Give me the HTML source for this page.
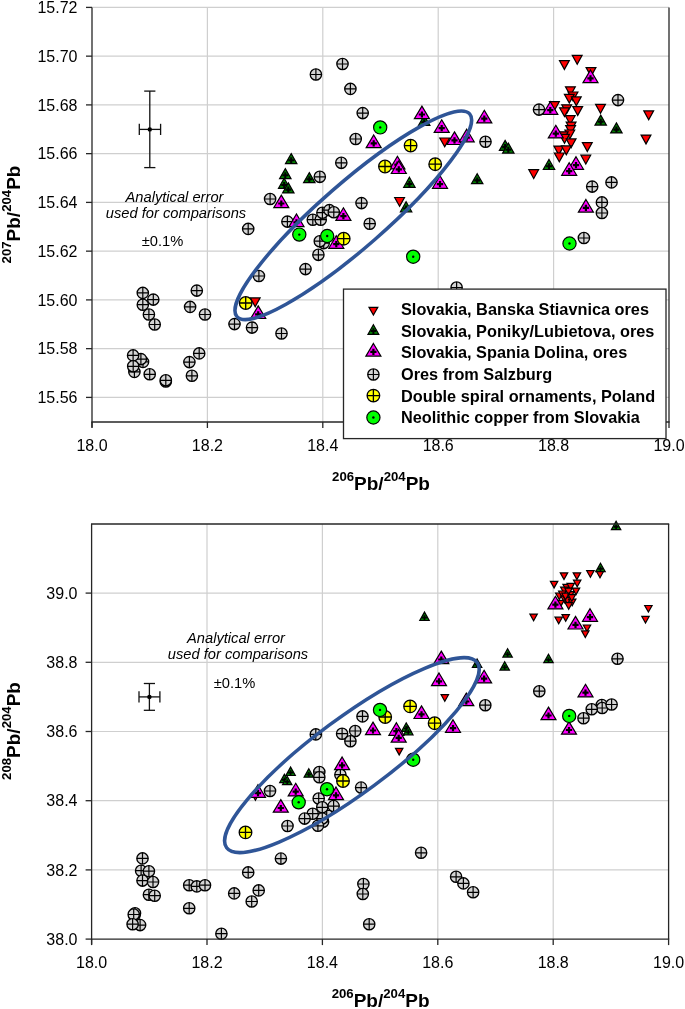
<!DOCTYPE html>
<html><head><meta charset="utf-8"><style>
html,body{margin:0;padding:0;background:#fff;width:685px;height:1009px;overflow:hidden}
svg{display:block;will-change:transform}
text{font-family:"Liberation Sans", sans-serif;fill:#000}
</style></head><body>
<svg width="685" height="1009" viewBox="0 0 685 1009">
<rect width="685" height="1009" fill="#fff"/>
<line x1="92" y1="7.4" x2="669" y2="7.4" stroke="#cfcfcf" stroke-width="1.2"/>
<line x1="92" y1="56.15" x2="669" y2="56.15" stroke="#cfcfcf" stroke-width="1.2"/>
<line x1="92" y1="104.9" x2="669" y2="104.9" stroke="#cfcfcf" stroke-width="1.2"/>
<line x1="92" y1="153.65" x2="669" y2="153.65" stroke="#cfcfcf" stroke-width="1.2"/>
<line x1="92" y1="202.4" x2="669" y2="202.4" stroke="#cfcfcf" stroke-width="1.2"/>
<line x1="92" y1="251.15" x2="669" y2="251.15" stroke="#cfcfcf" stroke-width="1.2"/>
<line x1="92" y1="299.9" x2="669" y2="299.9" stroke="#cfcfcf" stroke-width="1.2"/>
<line x1="92" y1="348.65" x2="669" y2="348.65" stroke="#cfcfcf" stroke-width="1.2"/>
<line x1="92" y1="397.4" x2="669" y2="397.4" stroke="#cfcfcf" stroke-width="1.2"/>
<line x1="207.4" y1="7.4" x2="207.4" y2="422" stroke="#cfcfcf" stroke-width="1.2"/>
<line x1="322.8" y1="7.4" x2="322.8" y2="422" stroke="#cfcfcf" stroke-width="1.2"/>
<line x1="438.2" y1="7.4" x2="438.2" y2="422" stroke="#cfcfcf" stroke-width="1.2"/>
<line x1="553.6" y1="7.4" x2="553.6" y2="422" stroke="#cfcfcf" stroke-width="1.2"/>
<path d="M572.3,55.4L582.1,55.4L577.2,64.2Z" fill="#ff0000" stroke="#000" stroke-width="1.2"/>
<path d="M559.5,60.6L569.3,60.6L564.4,69.4Z" fill="#ff0000" stroke="#000" stroke-width="1.2"/>
<path d="M586.1,67.6L595.9,67.6L591.0,76.4Z" fill="#ff0000" stroke="#000" stroke-width="1.2"/>
<path d="M565.5,86.8L575.3,86.8L570.4,95.6Z" fill="#ff0000" stroke="#000" stroke-width="1.2"/>
<path d="M568.1,92.0L577.9,92.0L573.0,100.8Z" fill="#ff0000" stroke="#000" stroke-width="1.2"/>
<path d="M564.4,94.3L574.2,94.3L569.3,103.1Z" fill="#ff0000" stroke="#000" stroke-width="1.2"/>
<path d="M571.4,96.9L581.2,96.9L576.3,105.7Z" fill="#ff0000" stroke="#000" stroke-width="1.2"/>
<path d="M549.5,101.7L559.3,101.7L554.4,110.5Z" fill="#ff0000" stroke="#000" stroke-width="1.2"/>
<path d="M561.8,104.8L571.6,104.8L566.7,113.6Z" fill="#ff0000" stroke="#000" stroke-width="1.2"/>
<path d="M559.6,107.8L569.4,107.8L564.5,116.6Z" fill="#ff0000" stroke="#000" stroke-width="1.2"/>
<path d="M572.8,106.6L582.6,106.6L577.7,115.4Z" fill="#ff0000" stroke="#000" stroke-width="1.2"/>
<path d="M565.3,115.7L575.1,115.7L570.2,124.5Z" fill="#ff0000" stroke="#000" stroke-width="1.2"/>
<path d="M566.2,122.1L576.0,122.1L571.1,130.9Z" fill="#ff0000" stroke="#000" stroke-width="1.2"/>
<path d="M565.7,125.6L575.5,125.6L570.6,134.4Z" fill="#ff0000" stroke="#000" stroke-width="1.2"/>
<path d="M564.9,130.0L574.7,130.0L569.8,138.8Z" fill="#ff0000" stroke="#000" stroke-width="1.2"/>
<path d="M558.3,131.8L568.1,131.8L563.2,140.6Z" fill="#ff0000" stroke="#000" stroke-width="1.2"/>
<path d="M559.6,134.4L569.4,134.4L564.5,143.2Z" fill="#ff0000" stroke="#000" stroke-width="1.2"/>
<path d="M566.2,138.9L576.0,138.9L571.1,147.7Z" fill="#ff0000" stroke="#000" stroke-width="1.2"/>
<path d="M553.9,146.1L563.7,146.1L558.8,154.9Z" fill="#ff0000" stroke="#000" stroke-width="1.2"/>
<path d="M561.4,145.9L571.2,145.9L566.3,154.7Z" fill="#ff0000" stroke="#000" stroke-width="1.2"/>
<path d="M582.4,142.6L592.2,142.6L587.3,151.4Z" fill="#ff0000" stroke="#000" stroke-width="1.2"/>
<path d="M554.4,153.0L564.2,153.0L559.3,161.8Z" fill="#ff0000" stroke="#000" stroke-width="1.2"/>
<path d="M580.9,155.2L590.7,155.2L585.8,164.0Z" fill="#ff0000" stroke="#000" stroke-width="1.2"/>
<path d="M528.8,169.7L538.6,169.7L533.7,178.5Z" fill="#ff0000" stroke="#000" stroke-width="1.2"/>
<path d="M595.6,104.4L605.4,104.4L600.5,113.2Z" fill="#ff0000" stroke="#000" stroke-width="1.2"/>
<path d="M643.8,110.9L653.6,110.9L648.7,119.7Z" fill="#ff0000" stroke="#000" stroke-width="1.2"/>
<path d="M641.1,135.1L650.9,135.1L646.0,143.9Z" fill="#ff0000" stroke="#000" stroke-width="1.2"/>
<path d="M439.8,138.0L449.6,138.0L444.7,146.8Z" fill="#ff0000" stroke="#000" stroke-width="1.2"/>
<path d="M394.7,197.5L404.5,197.5L399.6,206.3Z" fill="#ff0000" stroke="#000" stroke-width="1.2"/>
<path d="M250.3,297.9L260.1,297.9L255.2,306.7Z" fill="#ff0000" stroke="#000" stroke-width="1.2"/>
<path d="M291.2,153.6L296.9,163.6L285.5,163.6Z" fill="#008000" stroke="#000" stroke-width="1.2"/><path d="M288.3,160.3H294.1M291.2,157.3V163.2" stroke="#000" stroke-width="2.1"/>
<path d="M285.3,168.6L291.0,178.6L279.6,178.6Z" fill="#008000" stroke="#000" stroke-width="1.2"/><path d="M282.4,175.3H288.2M285.3,172.3V178.2" stroke="#000" stroke-width="2.1"/>
<path d="M284.2,178.3L289.9,188.3L278.5,188.3Z" fill="#008000" stroke="#000" stroke-width="1.2"/><path d="M281.3,185.0H287.1M284.2,182.0V187.9" stroke="#000" stroke-width="2.1"/>
<path d="M288.3,182.9L294.0,192.9L282.6,192.9Z" fill="#008000" stroke="#000" stroke-width="1.2"/><path d="M285.4,189.6H291.2M288.3,186.6V192.5" stroke="#000" stroke-width="2.1"/>
<path d="M309.3,172.6L315.0,182.6L303.6,182.6Z" fill="#008000" stroke="#000" stroke-width="1.2"/><path d="M306.4,179.3H312.2M309.3,176.3V182.2" stroke="#000" stroke-width="2.1"/>
<path d="M406.1,201.8L411.8,211.8L400.4,211.8Z" fill="#008000" stroke="#000" stroke-width="1.2"/><path d="M403.2,208.5H409.0M406.1,205.5V211.4" stroke="#000" stroke-width="2.1"/>
<path d="M409.4,177.3L415.1,187.3L403.7,187.3Z" fill="#008000" stroke="#000" stroke-width="1.2"/><path d="M406.5,184.0H412.3M409.4,181.0V186.9" stroke="#000" stroke-width="2.1"/>
<path d="M424.2,115.5L429.9,125.5L418.5,125.5Z" fill="#008000" stroke="#000" stroke-width="1.2"/><path d="M421.3,122.2H427.1M424.2,119.2V125.1" stroke="#000" stroke-width="2.1"/>
<path d="M477.2,173.7L482.9,183.7L471.5,183.7Z" fill="#008000" stroke="#000" stroke-width="1.2"/><path d="M474.3,180.4H480.1M477.2,177.4V183.3" stroke="#000" stroke-width="2.1"/>
<path d="M505.1,140.4L510.8,150.4L499.4,150.4Z" fill="#008000" stroke="#000" stroke-width="1.2"/><path d="M502.2,147.1H508.0M505.1,144.1V150.0" stroke="#000" stroke-width="2.1"/>
<path d="M508.3,143.1L514.0,153.1L502.6,153.1Z" fill="#008000" stroke="#000" stroke-width="1.2"/><path d="M505.4,149.8H511.2M508.3,146.8V152.7" stroke="#000" stroke-width="2.1"/>
<path d="M549.0,159.5L554.7,169.5L543.3,169.5Z" fill="#008000" stroke="#000" stroke-width="1.2"/><path d="M546.1,166.2H551.9M549.0,163.2V169.1" stroke="#000" stroke-width="2.1"/>
<path d="M600.7,115.1L606.4,125.1L595.0,125.1Z" fill="#008000" stroke="#000" stroke-width="1.2"/><path d="M597.8,121.8H603.6M600.7,118.8V124.7" stroke="#000" stroke-width="2.1"/>
<path d="M616.4,122.9L622.1,132.9L610.7,132.9Z" fill="#008000" stroke="#000" stroke-width="1.2"/><path d="M613.5,129.6H619.3M616.4,126.6V132.5" stroke="#000" stroke-width="2.1"/>
<circle cx="142.8" cy="292.9" r="5.65" fill="#d4d4d4" stroke="#000" stroke-width="1.35"/><path d="M137.2,292.9H148.5M142.8,287.2V298.5" stroke="#000" stroke-width="1.2"/>
<circle cx="153.3" cy="299.6" r="5.65" fill="#d4d4d4" stroke="#000" stroke-width="1.35"/><path d="M147.7,299.6H159.0M153.3,294.0V305.2" stroke="#000" stroke-width="1.2"/>
<circle cx="142.8" cy="304.7" r="5.65" fill="#d4d4d4" stroke="#000" stroke-width="1.35"/><path d="M137.2,304.7H148.5M142.8,299.1V310.3" stroke="#000" stroke-width="1.2"/>
<circle cx="148.9" cy="314.5" r="5.65" fill="#d4d4d4" stroke="#000" stroke-width="1.35"/><path d="M143.2,314.5H154.6M148.9,308.9V320.1" stroke="#000" stroke-width="1.2"/>
<circle cx="154.7" cy="324.5" r="5.65" fill="#d4d4d4" stroke="#000" stroke-width="1.35"/><path d="M149.0,324.5H160.3M154.7,318.9V330.1" stroke="#000" stroke-width="1.2"/>
<circle cx="196.8" cy="290.6" r="5.65" fill="#d4d4d4" stroke="#000" stroke-width="1.35"/><path d="M191.2,290.6H202.5M196.8,285.0V296.2" stroke="#000" stroke-width="1.2"/>
<circle cx="190.1" cy="306.9" r="5.65" fill="#d4d4d4" stroke="#000" stroke-width="1.35"/><path d="M184.4,306.9H195.8M190.1,301.2V312.5" stroke="#000" stroke-width="1.2"/>
<circle cx="205.0" cy="314.5" r="5.65" fill="#d4d4d4" stroke="#000" stroke-width="1.35"/><path d="M199.3,314.5H210.7M205.0,308.9V320.1" stroke="#000" stroke-width="1.2"/>
<circle cx="143.0" cy="361.9" r="5.65" fill="#d4d4d4" stroke="#000" stroke-width="1.35"/><path d="M137.3,361.9H148.7M143.0,356.2V367.5" stroke="#000" stroke-width="1.2"/>
<circle cx="140.9" cy="359.1" r="5.65" fill="#d4d4d4" stroke="#000" stroke-width="1.35"/><path d="M135.2,359.1H146.6M140.9,353.5V364.8" stroke="#000" stroke-width="1.2"/>
<circle cx="134.4" cy="371.9" r="5.65" fill="#d4d4d4" stroke="#000" stroke-width="1.35"/><path d="M128.8,371.9H140.1M134.4,366.2V377.5" stroke="#000" stroke-width="1.2"/>
<circle cx="133.1" cy="355.4" r="5.65" fill="#d4d4d4" stroke="#000" stroke-width="1.35"/><path d="M127.4,355.4H138.8M133.1,349.8V361.0" stroke="#000" stroke-width="1.2"/>
<circle cx="133.2" cy="366.3" r="5.65" fill="#d4d4d4" stroke="#000" stroke-width="1.35"/><path d="M127.5,366.3H138.8M133.2,360.7V371.9" stroke="#000" stroke-width="1.2"/>
<circle cx="149.7" cy="374.3" r="5.65" fill="#d4d4d4" stroke="#000" stroke-width="1.35"/><path d="M144.0,374.3H155.3M149.7,368.7V379.9" stroke="#000" stroke-width="1.2"/>
<circle cx="165.8" cy="381.5" r="5.65" fill="#d4d4d4" stroke="#000" stroke-width="1.35"/><path d="M160.2,381.5H171.5M165.8,375.9V387.1" stroke="#000" stroke-width="1.2"/>
<circle cx="165.8" cy="380.3" r="5.65" fill="#d4d4d4" stroke="#000" stroke-width="1.35"/><path d="M160.2,380.3H171.5M165.8,374.7V385.9" stroke="#000" stroke-width="1.2"/>
<circle cx="199.2" cy="353.4" r="5.65" fill="#d4d4d4" stroke="#000" stroke-width="1.35"/><path d="M193.5,353.4H204.8M199.2,347.8V359.0" stroke="#000" stroke-width="1.2"/>
<circle cx="189.4" cy="362.1" r="5.65" fill="#d4d4d4" stroke="#000" stroke-width="1.35"/><path d="M183.8,362.1H195.1M189.4,356.5V367.8" stroke="#000" stroke-width="1.2"/>
<circle cx="191.9" cy="375.8" r="5.65" fill="#d4d4d4" stroke="#000" stroke-width="1.35"/><path d="M186.2,375.8H197.6M191.9,370.2V381.4" stroke="#000" stroke-width="1.2"/>
<circle cx="270.1" cy="199.0" r="5.65" fill="#d4d4d4" stroke="#000" stroke-width="1.35"/><path d="M264.5,199.0H275.8M270.1,193.3V204.7" stroke="#000" stroke-width="1.2"/>
<circle cx="248.2" cy="228.9" r="5.65" fill="#d4d4d4" stroke="#000" stroke-width="1.35"/><path d="M242.5,228.9H253.8M248.2,223.2V234.6" stroke="#000" stroke-width="1.2"/>
<circle cx="287.4" cy="221.6" r="5.65" fill="#d4d4d4" stroke="#000" stroke-width="1.35"/><path d="M281.8,221.6H293.0M287.4,215.9V227.2" stroke="#000" stroke-width="1.2"/>
<circle cx="258.9" cy="276.0" r="5.65" fill="#d4d4d4" stroke="#000" stroke-width="1.35"/><path d="M253.2,276.0H264.5M258.9,270.4V281.6" stroke="#000" stroke-width="1.2"/>
<circle cx="234.5" cy="324.1" r="5.65" fill="#d4d4d4" stroke="#000" stroke-width="1.35"/><path d="M228.8,324.1H240.2M234.5,318.5V329.8" stroke="#000" stroke-width="1.2"/>
<circle cx="252.0" cy="327.6" r="5.65" fill="#d4d4d4" stroke="#000" stroke-width="1.35"/><path d="M246.3,327.6H257.6M252.0,322.0V333.2" stroke="#000" stroke-width="1.2"/>
<circle cx="281.5" cy="333.5" r="5.65" fill="#d4d4d4" stroke="#000" stroke-width="1.35"/><path d="M275.9,333.5H287.1M281.5,327.9V339.1" stroke="#000" stroke-width="1.2"/>
<circle cx="305.5" cy="269.1" r="5.65" fill="#d4d4d4" stroke="#000" stroke-width="1.35"/><path d="M299.9,269.1H311.1M305.5,263.5V274.8" stroke="#000" stroke-width="1.2"/>
<circle cx="318.4" cy="254.8" r="5.65" fill="#d4d4d4" stroke="#000" stroke-width="1.35"/><path d="M312.8,254.8H324.0M318.4,249.2V260.4" stroke="#000" stroke-width="1.2"/>
<circle cx="323.7" cy="243.1" r="5.65" fill="#d4d4d4" stroke="#000" stroke-width="1.35"/><path d="M318.1,243.1H329.3M323.7,237.4V248.8" stroke="#000" stroke-width="1.2"/>
<circle cx="319.8" cy="241.2" r="5.65" fill="#d4d4d4" stroke="#000" stroke-width="1.35"/><path d="M314.2,241.2H325.4M319.8,235.5V246.8" stroke="#000" stroke-width="1.2"/>
<circle cx="312.8" cy="219.7" r="5.65" fill="#d4d4d4" stroke="#000" stroke-width="1.35"/><path d="M307.2,219.7H318.4M312.8,214.0V225.3" stroke="#000" stroke-width="1.2"/>
<circle cx="320.7" cy="219.7" r="5.65" fill="#d4d4d4" stroke="#000" stroke-width="1.35"/><path d="M315.1,219.7H326.3M320.7,214.0V225.3" stroke="#000" stroke-width="1.2"/>
<circle cx="322.4" cy="212.7" r="5.65" fill="#d4d4d4" stroke="#000" stroke-width="1.35"/><path d="M316.8,212.7H328.0M322.4,207.0V218.3" stroke="#000" stroke-width="1.2"/>
<circle cx="329.4" cy="210.1" r="5.65" fill="#d4d4d4" stroke="#000" stroke-width="1.35"/><path d="M323.8,210.1H335.0M329.4,204.4V215.8" stroke="#000" stroke-width="1.2"/>
<circle cx="333.8" cy="212.2" r="5.65" fill="#d4d4d4" stroke="#000" stroke-width="1.35"/><path d="M328.2,212.2H339.4M333.8,206.5V217.8" stroke="#000" stroke-width="1.2"/>
<circle cx="319.8" cy="176.8" r="5.65" fill="#d4d4d4" stroke="#000" stroke-width="1.35"/><path d="M314.2,176.8H325.4M319.8,171.2V182.5" stroke="#000" stroke-width="1.2"/>
<circle cx="341.3" cy="162.8" r="5.65" fill="#d4d4d4" stroke="#000" stroke-width="1.35"/><path d="M335.7,162.8H346.9M341.3,157.2V168.5" stroke="#000" stroke-width="1.2"/>
<circle cx="361.5" cy="203.1" r="5.65" fill="#d4d4d4" stroke="#000" stroke-width="1.35"/><path d="M355.9,203.1H367.1M361.5,197.4V208.8" stroke="#000" stroke-width="1.2"/>
<circle cx="369.7" cy="223.7" r="5.65" fill="#d4d4d4" stroke="#000" stroke-width="1.35"/><path d="M364.1,223.7H375.3M369.7,218.0V229.3" stroke="#000" stroke-width="1.2"/>
<circle cx="315.9" cy="74.5" r="5.65" fill="#d4d4d4" stroke="#000" stroke-width="1.35"/><path d="M310.2,74.5H321.5M315.9,68.8V80.2" stroke="#000" stroke-width="1.2"/>
<circle cx="342.5" cy="64.0" r="5.65" fill="#d4d4d4" stroke="#000" stroke-width="1.35"/><path d="M336.9,64.0H348.1M342.5,58.4V69.7" stroke="#000" stroke-width="1.2"/>
<circle cx="350.4" cy="88.9" r="5.65" fill="#d4d4d4" stroke="#000" stroke-width="1.35"/><path d="M344.8,88.9H356.0M350.4,83.2V94.6" stroke="#000" stroke-width="1.2"/>
<circle cx="362.7" cy="113.1" r="5.65" fill="#d4d4d4" stroke="#000" stroke-width="1.35"/><path d="M357.1,113.1H368.3M362.7,107.4V118.8" stroke="#000" stroke-width="1.2"/>
<circle cx="355.7" cy="139.0" r="5.65" fill="#d4d4d4" stroke="#000" stroke-width="1.35"/><path d="M350.1,139.0H361.3M355.7,133.3V144.7" stroke="#000" stroke-width="1.2"/>
<circle cx="456.6" cy="287.5" r="5.65" fill="#d4d4d4" stroke="#000" stroke-width="1.35"/><path d="M451.0,287.5H462.2M456.6,281.9V293.1" stroke="#000" stroke-width="1.2"/>
<circle cx="485.5" cy="141.7" r="5.65" fill="#d4d4d4" stroke="#000" stroke-width="1.35"/><path d="M479.9,141.7H491.1M485.5,136.0V147.3" stroke="#000" stroke-width="1.2"/>
<circle cx="539.0" cy="109.6" r="5.65" fill="#d4d4d4" stroke="#000" stroke-width="1.35"/><path d="M533.4,109.6H544.6M539.0,103.9V115.2" stroke="#000" stroke-width="1.2"/>
<circle cx="618.0" cy="100.1" r="5.65" fill="#d4d4d4" stroke="#000" stroke-width="1.35"/><path d="M612.4,100.1H623.6M618.0,94.4V105.8" stroke="#000" stroke-width="1.2"/>
<circle cx="592.2" cy="186.6" r="5.65" fill="#d4d4d4" stroke="#000" stroke-width="1.35"/><path d="M586.6,186.6H597.9M592.2,180.9V192.2" stroke="#000" stroke-width="1.2"/>
<circle cx="611.5" cy="182.4" r="5.65" fill="#d4d4d4" stroke="#000" stroke-width="1.35"/><path d="M605.9,182.4H617.1M611.5,176.8V188.1" stroke="#000" stroke-width="1.2"/>
<circle cx="601.9" cy="202.4" r="5.65" fill="#d4d4d4" stroke="#000" stroke-width="1.35"/><path d="M596.2,202.4H607.5M601.9,196.8V208.1" stroke="#000" stroke-width="1.2"/>
<circle cx="601.9" cy="213.0" r="5.65" fill="#d4d4d4" stroke="#000" stroke-width="1.35"/><path d="M596.2,213.0H607.5M601.9,207.3V218.7" stroke="#000" stroke-width="1.2"/>
<circle cx="583.9" cy="238.0" r="5.65" fill="#d4d4d4" stroke="#000" stroke-width="1.35"/><path d="M578.2,238.0H589.5M583.9,232.3V243.7" stroke="#000" stroke-width="1.2"/>
<path d="M281.3,195.1L288.8,207.7L273.8,207.7Z" fill="#ff00ff" stroke="#000" stroke-width="1.2"/><path d="M278.2,203.5H284.4M281.3,200.4V206.6" stroke="#000" stroke-width="2.2"/>
<path d="M296.5,214.0L304.0,226.6L289.0,226.6Z" fill="#ff00ff" stroke="#000" stroke-width="1.2"/><path d="M293.4,222.4H299.6M296.5,219.3V225.5" stroke="#000" stroke-width="2.2"/>
<path d="M343.4,207.8L350.9,220.4L335.9,220.4Z" fill="#ff00ff" stroke="#000" stroke-width="1.2"/><path d="M340.3,216.2H346.5M343.4,213.1V219.3" stroke="#000" stroke-width="2.2"/>
<path d="M336.3,235.7L343.8,248.3L328.8,248.3Z" fill="#ff00ff" stroke="#000" stroke-width="1.2"/><path d="M333.2,244.1H339.4M336.3,241.0V247.2" stroke="#000" stroke-width="2.2"/>
<path d="M258.2,305.9L265.7,318.5L250.7,318.5Z" fill="#ff00ff" stroke="#000" stroke-width="1.2"/><path d="M255.1,314.3H261.3M258.2,311.2V317.4" stroke="#000" stroke-width="2.2"/>
<path d="M373.7,135.0L381.2,147.6L366.2,147.6Z" fill="#ff00ff" stroke="#000" stroke-width="1.2"/><path d="M370.6,143.4H376.8M373.7,140.3V146.5" stroke="#000" stroke-width="2.2"/>
<path d="M397.4,156.3L404.9,168.9L389.9,168.9Z" fill="#ff00ff" stroke="#000" stroke-width="1.2"/><path d="M394.3,164.7H400.5M397.4,161.6V167.8" stroke="#000" stroke-width="2.2"/>
<path d="M398.8,160.9L406.3,173.5L391.3,173.5Z" fill="#ff00ff" stroke="#000" stroke-width="1.2"/><path d="M395.7,169.3H401.9M398.8,166.2V172.4" stroke="#000" stroke-width="2.2"/>
<path d="M421.9,106.1L429.4,118.7L414.4,118.7Z" fill="#ff00ff" stroke="#000" stroke-width="1.2"/><path d="M418.8,114.5H425.0M421.9,111.4V117.6" stroke="#000" stroke-width="2.2"/>
<path d="M441.7,119.8L449.2,132.4L434.2,132.4Z" fill="#ff00ff" stroke="#000" stroke-width="1.2"/><path d="M438.6,128.2H444.8M441.7,125.1V131.3" stroke="#000" stroke-width="2.2"/>
<path d="M454.5,131.9L462.0,144.5L447.0,144.5Z" fill="#ff00ff" stroke="#000" stroke-width="1.2"/><path d="M451.4,140.3H457.6M454.5,137.2V143.4" stroke="#000" stroke-width="2.2"/>
<path d="M466.7,129.2L474.2,141.8L459.2,141.8Z" fill="#ff00ff" stroke="#000" stroke-width="1.2"/><path d="M463.6,137.6H469.8M466.7,134.5V140.7" stroke="#000" stroke-width="2.2"/>
<path d="M484.3,110.3L491.8,122.9L476.8,122.9Z" fill="#ff00ff" stroke="#000" stroke-width="1.2"/><path d="M481.2,118.7H487.4M484.3,115.6V121.8" stroke="#000" stroke-width="2.2"/>
<path d="M440.0,175.7L447.5,188.3L432.5,188.3Z" fill="#ff00ff" stroke="#000" stroke-width="1.2"/><path d="M436.9,184.1H443.1M440.0,181.0V187.2" stroke="#000" stroke-width="2.2"/>
<path d="M550.3,101.7L557.8,114.3L542.8,114.3Z" fill="#ff00ff" stroke="#000" stroke-width="1.2"/><path d="M547.2,110.1H553.4M550.3,107.0V113.2" stroke="#000" stroke-width="2.2"/>
<path d="M555.8,125.3L563.3,137.9L548.3,137.9Z" fill="#ff00ff" stroke="#000" stroke-width="1.2"/><path d="M552.7,133.7H558.9M555.8,130.6V136.8" stroke="#000" stroke-width="2.2"/>
<path d="M590.5,70.0L598.0,82.6L583.0,82.6Z" fill="#ff00ff" stroke="#000" stroke-width="1.2"/><path d="M587.4,78.4H593.6M590.5,75.3V81.5" stroke="#000" stroke-width="2.2"/>
<path d="M576.0,156.7L583.5,169.3L568.5,169.3Z" fill="#ff00ff" stroke="#000" stroke-width="1.2"/><path d="M572.9,165.1H579.1M576.0,162.0V168.2" stroke="#000" stroke-width="2.2"/>
<path d="M569.2,162.7L576.7,175.3L561.7,175.3Z" fill="#ff00ff" stroke="#000" stroke-width="1.2"/><path d="M566.1,171.1H572.3M569.2,168.0V174.2" stroke="#000" stroke-width="2.2"/>
<path d="M585.9,199.5L593.4,212.1L578.4,212.1Z" fill="#ff00ff" stroke="#000" stroke-width="1.2"/><path d="M582.8,207.9H589.0M585.9,204.8V211.0" stroke="#000" stroke-width="2.2"/>
<circle cx="245.7" cy="303.0" r="6.3" fill="#ffff00" stroke="#000" stroke-width="1.3"/><path d="M239.4,303.0H252.0M245.7,296.7V309.3" stroke="#000" stroke-width="1.3"/>
<circle cx="343.7" cy="238.7" r="6.3" fill="#ffff00" stroke="#000" stroke-width="1.3"/><path d="M337.4,238.7H350.0M343.7,232.4V245.0" stroke="#000" stroke-width="1.3"/>
<circle cx="385.0" cy="166.5" r="6.3" fill="#ffff00" stroke="#000" stroke-width="1.3"/><path d="M378.7,166.5H391.3M385.0,160.2V172.8" stroke="#000" stroke-width="1.3"/>
<circle cx="410.6" cy="145.6" r="6.3" fill="#ffff00" stroke="#000" stroke-width="1.3"/><path d="M404.3,145.6H416.9M410.6,139.3V151.9" stroke="#000" stroke-width="1.3"/>
<circle cx="435.2" cy="164.2" r="6.3" fill="#ffff00" stroke="#000" stroke-width="1.3"/><path d="M428.9,164.2H441.5M435.2,157.9V170.5" stroke="#000" stroke-width="1.3"/>
<circle cx="299.3" cy="234.6" r="6.6" fill="#00ff00" stroke="#000" stroke-width="1.2"/><circle cx="299.3" cy="234.6" r="1.2" fill="#000"/>
<circle cx="327.2" cy="236.0" r="6.6" fill="#00ff00" stroke="#000" stroke-width="1.2"/><circle cx="327.2" cy="236.0" r="1.2" fill="#000"/>
<circle cx="380.2" cy="127.4" r="6.6" fill="#00ff00" stroke="#000" stroke-width="1.2"/><circle cx="380.2" cy="127.4" r="1.2" fill="#000"/>
<circle cx="413.2" cy="256.7" r="6.6" fill="#00ff00" stroke="#000" stroke-width="1.2"/><circle cx="413.2" cy="256.7" r="1.2" fill="#000"/>
<circle cx="569.5" cy="243.5" r="6.6" fill="#00ff00" stroke="#000" stroke-width="1.2"/><circle cx="569.5" cy="243.5" r="1.2" fill="#000"/>
<ellipse cx="353.3" cy="215.3" rx="154.3" ry="32.4" transform="rotate(-41.05 353.3 215.3)" fill="none" stroke="#2f5597" stroke-width="3.5"/>
<g stroke="#111" stroke-width="1.3">
<line x1="149.8" y1="91.1" x2="149.8" y2="167.6"/>
<line x1="144.20000000000002" y1="91.1" x2="155.4" y2="91.1"/>
<line x1="144.20000000000002" y1="167.6" x2="155.4" y2="167.6"/>
<line x1="139.3" y1="129.4" x2="160.6" y2="129.4"/>
<line x1="139.3" y1="123.80000000000001" x2="139.3" y2="135.0"/>
<line x1="160.6" y1="123.80000000000001" x2="160.6" y2="135.0"/>
</g>
<circle cx="149.8" cy="129.4" r="2.2" fill="#000"/>
<line x1="92" y1="7.4" x2="92" y2="427.5" stroke="#262626" stroke-width="1.3"/>
<line x1="91.4" y1="422" x2="669.6" y2="422" stroke="#262626" stroke-width="1.3"/>
<line x1="669" y1="7.4" x2="669" y2="422" stroke="#262626" stroke-width="1.3"/>
<line x1="86" y1="7.4" x2="92" y2="7.4" stroke="#262626" stroke-width="1.3"/>
<line x1="86" y1="56.15" x2="92" y2="56.15" stroke="#262626" stroke-width="1.3"/>
<line x1="86" y1="104.9" x2="92" y2="104.9" stroke="#262626" stroke-width="1.3"/>
<line x1="86" y1="153.65" x2="92" y2="153.65" stroke="#262626" stroke-width="1.3"/>
<line x1="86" y1="202.4" x2="92" y2="202.4" stroke="#262626" stroke-width="1.3"/>
<line x1="86" y1="251.15" x2="92" y2="251.15" stroke="#262626" stroke-width="1.3"/>
<line x1="86" y1="299.9" x2="92" y2="299.9" stroke="#262626" stroke-width="1.3"/>
<line x1="86" y1="348.65" x2="92" y2="348.65" stroke="#262626" stroke-width="1.3"/>
<line x1="86" y1="397.4" x2="92" y2="397.4" stroke="#262626" stroke-width="1.3"/>
<line x1="92.0" y1="422" x2="92.0" y2="428" stroke="#262626" stroke-width="1.3"/>
<line x1="207.4" y1="422" x2="207.4" y2="428" stroke="#262626" stroke-width="1.3"/>
<line x1="322.8" y1="422" x2="322.8" y2="428" stroke="#262626" stroke-width="1.3"/>
<line x1="438.2" y1="422" x2="438.2" y2="428" stroke="#262626" stroke-width="1.3"/>
<line x1="553.6" y1="422" x2="553.6" y2="428" stroke="#262626" stroke-width="1.3"/>
<line x1="669.0" y1="422" x2="669.0" y2="428" stroke="#262626" stroke-width="1.3"/>
<text x="77.5" y="13.0" text-anchor="end" font-size="16">15.72</text>
<text x="77.5" y="61.8" text-anchor="end" font-size="16">15.70</text>
<text x="77.5" y="110.5" text-anchor="end" font-size="16">15.68</text>
<text x="77.5" y="159.2" text-anchor="end" font-size="16">15.66</text>
<text x="77.5" y="208.0" text-anchor="end" font-size="16">15.64</text>
<text x="77.5" y="256.8" text-anchor="end" font-size="16">15.62</text>
<text x="77.5" y="305.5" text-anchor="end" font-size="16">15.60</text>
<text x="77.5" y="354.2" text-anchor="end" font-size="16">15.58</text>
<text x="77.5" y="403.0" text-anchor="end" font-size="16">15.56</text>
<text x="92.0" y="450.9" text-anchor="middle" font-size="16">18.0</text>
<text x="207.4" y="450.9" text-anchor="middle" font-size="16">18.2</text>
<text x="322.8" y="450.9" text-anchor="middle" font-size="16">18.4</text>
<text x="438.2" y="450.9" text-anchor="middle" font-size="16">18.6</text>
<text x="553.6" y="450.9" text-anchor="middle" font-size="16">18.8</text>
<text x="669.0" y="450.9" text-anchor="middle" font-size="16">19.0</text>
<text x="381.0" y="490.4" text-anchor="middle" font-size="19" font-weight="bold"><tspan font-size="13.2" dy="-9">206</tspan><tspan dy="9">Pb/</tspan><tspan font-size="13.2" dy="-9">204</tspan><tspan dy="9">Pb</tspan></text>
<text transform="translate(19.8,214.5) rotate(-90)" x="0" y="0" text-anchor="middle" font-size="19" font-weight="bold"><tspan font-size="13.2" dy="-9">207</tspan><tspan dy="9">Pb/</tspan><tspan font-size="13.2" dy="-9">204</tspan><tspan dy="9">Pb</tspan></text>
<g font-style="italic" font-size="14.7" text-anchor="middle"><text x="174.5" y="201.8">Analytical error</text><text x="176" y="217.8">used for comparisons</text></g>
<text x="162.5" y="245.9" text-anchor="middle" font-size="14.7">±0.1%</text>
<rect x="343.5" y="289.1" width="322.5" height="149.5" fill="#fff" stroke="#262626" stroke-width="1.3"/>
<path d="M369.0,307.3L377.8,307.3L373.4,315.1Z" fill="#ff0000" stroke="#000" stroke-width="1.2"/>
<path d="M373.4,324.7L378.8,334.3L368.0,334.3Z" fill="#008000" stroke="#000" stroke-width="1.2"/><path d="M370.6,331.1H376.2M373.4,328.3V333.9" stroke="#000" stroke-width="2.0"/>
<path d="M373.4,343.5L380.9,356.1L365.9,356.1Z" fill="#ff00ff" stroke="#000" stroke-width="1.2"/><path d="M370.3,351.9H376.5M373.4,348.8V355.0" stroke="#000" stroke-width="2.2"/>
<circle cx="373.4" cy="374.5" r="5.65" fill="#d4d4d4" stroke="#000" stroke-width="1.35"/><path d="M367.8,374.5H379.0M373.4,368.9V380.1" stroke="#000" stroke-width="1.2"/>
<circle cx="373.4" cy="395.6" r="6.3" fill="#ffff00" stroke="#000" stroke-width="1.3"/><path d="M367.1,395.6H379.7M373.4,389.3V401.9" stroke="#000" stroke-width="1.3"/>
<circle cx="373.4" cy="417.5" r="6.6" fill="#00ff00" stroke="#000" stroke-width="1.2"/><circle cx="373.4" cy="417.5" r="1.2" fill="#000"/>
<g font-size="16.3" font-weight="bold">
<text x="401" y="315.3">Slovakia, Banska Stiavnica ores</text>
<text x="401" y="336.6">Slovakia, Poniky/Lubietova, ores</text>
<text x="401" y="358.0">Slovakia, Spania Dolina, ores</text>
<text x="401" y="379.9">Ores from Salzburg</text>
<text x="401" y="401.5">Double spiral ornaments, Poland</text>
<text x="401" y="423.0">Neolithic copper from Slovakia</text>
</g>
<line x1="91.6" y1="869.9" x2="668.6" y2="869.9" stroke="#cfcfcf" stroke-width="1.2"/>
<line x1="91.6" y1="800.7" x2="668.6" y2="800.7" stroke="#cfcfcf" stroke-width="1.2"/>
<line x1="91.6" y1="731.5" x2="668.6" y2="731.5" stroke="#cfcfcf" stroke-width="1.2"/>
<line x1="91.6" y1="662.3" x2="668.6" y2="662.3" stroke="#cfcfcf" stroke-width="1.2"/>
<line x1="91.6" y1="593.1" x2="668.6" y2="593.1" stroke="#cfcfcf" stroke-width="1.2"/>
<line x1="207.0" y1="524" x2="207.0" y2="939.1" stroke="#cfcfcf" stroke-width="1.2"/>
<line x1="322.4" y1="524" x2="322.4" y2="939.1" stroke="#cfcfcf" stroke-width="1.2"/>
<line x1="437.8" y1="524" x2="437.8" y2="939.1" stroke="#cfcfcf" stroke-width="1.2"/>
<line x1="553.2" y1="524" x2="553.2" y2="939.1" stroke="#cfcfcf" stroke-width="1.2"/>
<path d="M441.1,694.7L448.5,694.7L444.8,701.3Z" fill="#ff0000" stroke="#000" stroke-width="1.2"/>
<path d="M395.5,748.3L402.9,748.3L399.2,754.9Z" fill="#ff0000" stroke="#000" stroke-width="1.2"/>
<path d="M251.7,793.7L259.1,793.7L255.4,800.3Z" fill="#ff0000" stroke="#000" stroke-width="1.2"/>
<path d="M560.3,572.9L567.7,572.9L564.0,579.5Z" fill="#ff0000" stroke="#000" stroke-width="1.2"/>
<path d="M573.2,572.9L580.6,572.9L576.9,579.5Z" fill="#ff0000" stroke="#000" stroke-width="1.2"/>
<path d="M550.4,581.3L557.8,581.3L554.1,587.9Z" fill="#ff0000" stroke="#000" stroke-width="1.2"/>
<path d="M573.5,580.2L580.9,580.2L577.2,586.8Z" fill="#ff0000" stroke="#000" stroke-width="1.2"/>
<path d="M562.9,584.3L570.3,584.3L566.6,590.9Z" fill="#ff0000" stroke="#000" stroke-width="1.2"/>
<path d="M567.0,583.4L574.4,583.4L570.7,590.0Z" fill="#ff0000" stroke="#000" stroke-width="1.2"/>
<path d="M572.3,588.1L579.7,588.1L576.0,594.7Z" fill="#ff0000" stroke="#000" stroke-width="1.2"/>
<path d="M560.6,587.2L568.0,587.2L564.3,593.8Z" fill="#ff0000" stroke="#000" stroke-width="1.2"/>
<path d="M566.7,591.6L574.1,591.6L570.4,598.2Z" fill="#ff0000" stroke="#000" stroke-width="1.2"/>
<path d="M555.6,593.0L563.0,593.0L559.3,599.6Z" fill="#ff0000" stroke="#000" stroke-width="1.2"/>
<path d="M558.6,591.0L566.0,591.0L562.3,597.6Z" fill="#ff0000" stroke="#000" stroke-width="1.2"/>
<path d="M560.9,596.2L568.3,596.2L564.6,602.8Z" fill="#ff0000" stroke="#000" stroke-width="1.2"/>
<path d="M563.8,597.4L571.2,597.4L567.5,604.0Z" fill="#ff0000" stroke="#000" stroke-width="1.2"/>
<path d="M568.5,599.1L575.9,599.1L572.2,605.7Z" fill="#ff0000" stroke="#000" stroke-width="1.2"/>
<path d="M556.8,600.3L564.2,600.3L560.5,606.9Z" fill="#ff0000" stroke="#000" stroke-width="1.2"/>
<path d="M565.0,602.7L572.4,602.7L568.7,609.3Z" fill="#ff0000" stroke="#000" stroke-width="1.2"/>
<path d="M564.8,588.2L572.2,588.2L568.5,594.8Z" fill="#ff0000" stroke="#000" stroke-width="1.2"/>
<path d="M561.8,593.2L569.2,593.2L565.5,599.8Z" fill="#ff0000" stroke="#000" stroke-width="1.2"/>
<path d="M568.1,594.7L575.5,594.7L571.8,601.3Z" fill="#ff0000" stroke="#000" stroke-width="1.2"/>
<path d="M586.7,570.7L594.1,570.7L590.4,577.3Z" fill="#ff0000" stroke="#000" stroke-width="1.2"/>
<path d="M596.3,571.2L603.7,571.2L600.0,577.8Z" fill="#ff0000" stroke="#000" stroke-width="1.2"/>
<path d="M529.9,614.1L537.3,614.1L533.6,620.7Z" fill="#ff0000" stroke="#000" stroke-width="1.2"/>
<path d="M555.0,617.2L562.4,617.2L558.7,623.8Z" fill="#ff0000" stroke="#000" stroke-width="1.2"/>
<path d="M562.0,614.6L569.4,614.6L565.7,621.2Z" fill="#ff0000" stroke="#000" stroke-width="1.2"/>
<path d="M583.3,625.0L590.7,625.0L587.0,631.6Z" fill="#ff0000" stroke="#000" stroke-width="1.2"/>
<path d="M581.6,630.9L589.0,630.9L585.3,637.5Z" fill="#ff0000" stroke="#000" stroke-width="1.2"/>
<path d="M644.7,605.5L652.1,605.5L648.4,612.1Z" fill="#ff0000" stroke="#000" stroke-width="1.2"/>
<path d="M641.8,616.4L649.2,616.4L645.5,623.0Z" fill="#ff0000" stroke="#000" stroke-width="1.2"/>
<path d="M616.1,521.2L620.8,529.6L611.4,529.6Z" fill="#008000" stroke="#000" stroke-width="1.2"/><path d="M613.7,526.8H618.5M616.1,524.4V529.2" stroke="#000" stroke-width="1.74"/>
<path d="M600.5,563.2L605.2,571.6L595.8,571.6Z" fill="#008000" stroke="#000" stroke-width="1.2"/><path d="M598.1,568.8H602.9M600.5,566.4V571.2" stroke="#000" stroke-width="1.74"/>
<path d="M424.5,612.1L429.2,620.5L419.8,620.5Z" fill="#008000" stroke="#000" stroke-width="1.2"/><path d="M422.1,617.7H426.9M424.5,615.3V620.1" stroke="#000" stroke-width="1.74"/>
<path d="M477.1,659.0L481.8,667.4L472.4,667.4Z" fill="#008000" stroke="#000" stroke-width="1.2"/><path d="M474.7,664.6H479.5M477.1,662.2V667.0" stroke="#000" stroke-width="1.74"/>
<path d="M507.6,648.7L512.3,657.1L502.9,657.1Z" fill="#008000" stroke="#000" stroke-width="1.2"/><path d="M505.2,654.3H510.0M507.6,651.9V656.7" stroke="#000" stroke-width="1.74"/>
<path d="M504.7,661.7L509.4,670.1L500.0,670.1Z" fill="#008000" stroke="#000" stroke-width="1.2"/><path d="M502.3,667.3H507.1M504.7,664.9V669.7" stroke="#000" stroke-width="1.74"/>
<path d="M548.5,654.3L553.2,662.7L543.8,662.7Z" fill="#008000" stroke="#000" stroke-width="1.2"/><path d="M546.1,659.9H550.9M548.5,657.5V662.3" stroke="#000" stroke-width="1.74"/>
<path d="M290.6,767.1L295.3,775.5L285.9,775.5Z" fill="#008000" stroke="#000" stroke-width="1.2"/><path d="M288.2,772.7H293.0M290.6,770.3V775.1" stroke="#000" stroke-width="1.74"/>
<path d="M284.4,774.3L289.1,782.7L279.7,782.7Z" fill="#008000" stroke="#000" stroke-width="1.2"/><path d="M282.0,779.9H286.8M284.4,777.5V782.3" stroke="#000" stroke-width="1.74"/>
<path d="M287.2,776.3L291.9,784.7L282.5,784.7Z" fill="#008000" stroke="#000" stroke-width="1.2"/><path d="M284.8,781.9H289.6M287.2,779.5V784.3" stroke="#000" stroke-width="1.74"/>
<path d="M308.8,768.8L313.5,777.2L304.1,777.2Z" fill="#008000" stroke="#000" stroke-width="1.2"/><path d="M306.4,774.4H311.2M308.8,772.0V776.8" stroke="#000" stroke-width="1.74"/>
<path d="M406.2,722.9L410.9,731.3L401.5,731.3Z" fill="#008000" stroke="#000" stroke-width="1.2"/><path d="M403.8,728.5H408.6M406.2,726.1V730.9" stroke="#000" stroke-width="1.74"/>
<path d="M408.3,726.4L413.0,734.8L403.6,734.8Z" fill="#008000" stroke="#000" stroke-width="1.2"/><path d="M405.9,732.0H410.7M408.3,729.6V734.4" stroke="#000" stroke-width="1.74"/>
<circle cx="142.5" cy="858.4" r="5.65" fill="#d4d4d4" stroke="#000" stroke-width="1.35"/><path d="M136.8,858.4H148.2M142.5,852.8V864.0" stroke="#000" stroke-width="1.2"/>
<circle cx="141.1" cy="870.7" r="5.65" fill="#d4d4d4" stroke="#000" stroke-width="1.35"/><path d="M135.4,870.7H146.8M141.1,865.1V876.4" stroke="#000" stroke-width="1.2"/>
<circle cx="148.9" cy="871.2" r="5.65" fill="#d4d4d4" stroke="#000" stroke-width="1.35"/><path d="M143.2,871.2H154.6M148.9,865.6V876.9" stroke="#000" stroke-width="1.2"/>
<circle cx="142.5" cy="880.6" r="5.65" fill="#d4d4d4" stroke="#000" stroke-width="1.35"/><path d="M136.8,880.6H148.2M142.5,875.0V886.2" stroke="#000" stroke-width="1.2"/>
<circle cx="153.0" cy="882.0" r="5.65" fill="#d4d4d4" stroke="#000" stroke-width="1.35"/><path d="M147.3,882.0H158.7M153.0,876.4V887.6" stroke="#000" stroke-width="1.2"/>
<circle cx="148.9" cy="894.7" r="5.65" fill="#d4d4d4" stroke="#000" stroke-width="1.35"/><path d="M143.2,894.7H154.6M148.9,889.1V900.4" stroke="#000" stroke-width="1.2"/>
<circle cx="154.7" cy="895.7" r="5.65" fill="#d4d4d4" stroke="#000" stroke-width="1.35"/><path d="M149.0,895.7H160.3M154.7,890.1V901.4" stroke="#000" stroke-width="1.2"/>
<circle cx="134.3" cy="915.8" r="5.65" fill="#d4d4d4" stroke="#000" stroke-width="1.35"/><path d="M128.7,915.8H140.0M134.3,910.1V921.4" stroke="#000" stroke-width="1.2"/>
<circle cx="135.0" cy="913.3" r="5.65" fill="#d4d4d4" stroke="#000" stroke-width="1.35"/><path d="M129.3,913.3H140.7M135.0,907.6V918.9" stroke="#000" stroke-width="1.2"/>
<circle cx="133.7" cy="914.5" r="5.65" fill="#d4d4d4" stroke="#000" stroke-width="1.35"/><path d="M128.0,914.5H139.3M133.7,908.9V920.1" stroke="#000" stroke-width="1.2"/>
<circle cx="140.1" cy="925.1" r="5.65" fill="#d4d4d4" stroke="#000" stroke-width="1.35"/><path d="M134.4,925.1H145.8M140.1,919.5V930.8" stroke="#000" stroke-width="1.2"/>
<circle cx="132.6" cy="924.2" r="5.65" fill="#d4d4d4" stroke="#000" stroke-width="1.35"/><path d="M126.9,924.2H138.2M132.6,918.6V929.9" stroke="#000" stroke-width="1.2"/>
<circle cx="189.2" cy="885.2" r="5.65" fill="#d4d4d4" stroke="#000" stroke-width="1.35"/><path d="M183.5,885.2H194.8M189.2,879.6V890.9" stroke="#000" stroke-width="1.2"/>
<circle cx="196.8" cy="886.4" r="5.65" fill="#d4d4d4" stroke="#000" stroke-width="1.35"/><path d="M191.2,886.4H202.5M196.8,880.8V892.0" stroke="#000" stroke-width="1.2"/>
<circle cx="205.0" cy="885.2" r="5.65" fill="#d4d4d4" stroke="#000" stroke-width="1.35"/><path d="M199.3,885.2H210.7M205.0,879.6V890.9" stroke="#000" stroke-width="1.2"/>
<circle cx="189.2" cy="908.3" r="5.65" fill="#d4d4d4" stroke="#000" stroke-width="1.35"/><path d="M183.5,908.3H194.8M189.2,902.6V913.9" stroke="#000" stroke-width="1.2"/>
<circle cx="280.9" cy="858.6" r="5.65" fill="#d4d4d4" stroke="#000" stroke-width="1.35"/><path d="M275.2,858.6H286.5M280.9,853.0V864.2" stroke="#000" stroke-width="1.2"/>
<circle cx="248.2" cy="872.4" r="5.65" fill="#d4d4d4" stroke="#000" stroke-width="1.35"/><path d="M242.5,872.4H253.8M248.2,866.8V878.0" stroke="#000" stroke-width="1.2"/>
<circle cx="234.2" cy="893.4" r="5.65" fill="#d4d4d4" stroke="#000" stroke-width="1.35"/><path d="M228.5,893.4H239.8M234.2,887.8V899.0" stroke="#000" stroke-width="1.2"/>
<circle cx="258.7" cy="890.4" r="5.65" fill="#d4d4d4" stroke="#000" stroke-width="1.35"/><path d="M253.0,890.4H264.3M258.7,884.8V896.0" stroke="#000" stroke-width="1.2"/>
<circle cx="251.7" cy="901.5" r="5.65" fill="#d4d4d4" stroke="#000" stroke-width="1.35"/><path d="M246.0,901.5H257.3M251.7,895.9V907.1" stroke="#000" stroke-width="1.2"/>
<circle cx="221.4" cy="933.7" r="5.65" fill="#d4d4d4" stroke="#000" stroke-width="1.35"/><path d="M215.8,933.7H227.1M221.4,928.1V939.4" stroke="#000" stroke-width="1.2"/>
<circle cx="287.5" cy="826.0" r="5.65" fill="#d4d4d4" stroke="#000" stroke-width="1.35"/><path d="M281.9,826.0H293.1M287.5,820.4V831.6" stroke="#000" stroke-width="1.2"/>
<circle cx="270.0" cy="791.0" r="5.65" fill="#d4d4d4" stroke="#000" stroke-width="1.35"/><path d="M264.4,791.0H275.6M270.0,785.4V796.6" stroke="#000" stroke-width="1.2"/>
<circle cx="319.3" cy="772.0" r="5.65" fill="#d4d4d4" stroke="#000" stroke-width="1.35"/><path d="M313.7,772.0H324.9M319.3,766.4V777.6" stroke="#000" stroke-width="1.2"/>
<circle cx="319.3" cy="777.3" r="5.65" fill="#d4d4d4" stroke="#000" stroke-width="1.35"/><path d="M313.7,777.3H324.9M319.3,771.6V782.9" stroke="#000" stroke-width="1.2"/>
<circle cx="318.7" cy="798.5" r="5.65" fill="#d4d4d4" stroke="#000" stroke-width="1.35"/><path d="M313.1,798.5H324.3M318.7,792.9V804.1" stroke="#000" stroke-width="1.2"/>
<circle cx="326.7" cy="810.5" r="5.65" fill="#d4d4d4" stroke="#000" stroke-width="1.35"/><path d="M321.1,810.5H332.3M326.7,804.9V816.1" stroke="#000" stroke-width="1.2"/>
<circle cx="322.3" cy="807.3" r="5.65" fill="#d4d4d4" stroke="#000" stroke-width="1.35"/><path d="M316.7,807.3H327.9M322.3,801.6V812.9" stroke="#000" stroke-width="1.2"/>
<circle cx="333.6" cy="806.1" r="5.65" fill="#d4d4d4" stroke="#000" stroke-width="1.35"/><path d="M328.0,806.1H339.2M333.6,800.5V811.8" stroke="#000" stroke-width="1.2"/>
<circle cx="323.1" cy="821.8" r="5.65" fill="#d4d4d4" stroke="#000" stroke-width="1.35"/><path d="M317.5,821.8H328.8M323.1,816.1V827.4" stroke="#000" stroke-width="1.2"/>
<circle cx="322.3" cy="818.6" r="5.65" fill="#d4d4d4" stroke="#000" stroke-width="1.35"/><path d="M316.7,818.6H327.9M322.3,813.0V824.2" stroke="#000" stroke-width="1.2"/>
<circle cx="317.9" cy="825.8" r="5.65" fill="#d4d4d4" stroke="#000" stroke-width="1.35"/><path d="M312.2,825.8H323.5M317.9,820.1V831.4" stroke="#000" stroke-width="1.2"/>
<circle cx="312.7" cy="813.7" r="5.65" fill="#d4d4d4" stroke="#000" stroke-width="1.35"/><path d="M307.1,813.7H318.3M312.7,808.1V819.4" stroke="#000" stroke-width="1.2"/>
<circle cx="304.6" cy="818.6" r="5.65" fill="#d4d4d4" stroke="#000" stroke-width="1.35"/><path d="M299.0,818.6H310.2M304.6,813.0V824.2" stroke="#000" stroke-width="1.2"/>
<circle cx="340.4" cy="774.7" r="5.65" fill="#d4d4d4" stroke="#000" stroke-width="1.35"/><path d="M334.8,774.7H346.0M340.4,769.1V780.4" stroke="#000" stroke-width="1.2"/>
<circle cx="315.8" cy="734.4" r="5.65" fill="#d4d4d4" stroke="#000" stroke-width="1.35"/><path d="M310.2,734.4H321.4M315.8,728.8V740.0" stroke="#000" stroke-width="1.2"/>
<circle cx="342.1" cy="733.7" r="5.65" fill="#d4d4d4" stroke="#000" stroke-width="1.35"/><path d="M336.5,733.7H347.8M342.1,728.1V739.4" stroke="#000" stroke-width="1.2"/>
<circle cx="355.2" cy="731.0" r="5.65" fill="#d4d4d4" stroke="#000" stroke-width="1.35"/><path d="M349.6,731.0H360.8M355.2,725.4V736.6" stroke="#000" stroke-width="1.2"/>
<circle cx="350.4" cy="741.2" r="5.65" fill="#d4d4d4" stroke="#000" stroke-width="1.35"/><path d="M344.8,741.2H356.0M350.4,735.6V746.9" stroke="#000" stroke-width="1.2"/>
<circle cx="362.5" cy="716.4" r="5.65" fill="#d4d4d4" stroke="#000" stroke-width="1.35"/><path d="M356.9,716.4H368.1M362.5,710.8V722.0" stroke="#000" stroke-width="1.2"/>
<circle cx="361.1" cy="787.6" r="5.65" fill="#d4d4d4" stroke="#000" stroke-width="1.35"/><path d="M355.5,787.6H366.8M361.1,782.0V793.2" stroke="#000" stroke-width="1.2"/>
<circle cx="421.1" cy="852.8" r="5.65" fill="#d4d4d4" stroke="#000" stroke-width="1.35"/><path d="M415.5,852.8H426.8M421.1,847.1V858.4" stroke="#000" stroke-width="1.2"/>
<circle cx="363.4" cy="884.0" r="5.65" fill="#d4d4d4" stroke="#000" stroke-width="1.35"/><path d="M357.8,884.0H369.0M363.4,878.4V889.6" stroke="#000" stroke-width="1.2"/>
<circle cx="362.8" cy="894.0" r="5.65" fill="#d4d4d4" stroke="#000" stroke-width="1.35"/><path d="M357.2,894.0H368.4M362.8,888.4V899.6" stroke="#000" stroke-width="1.2"/>
<circle cx="369.2" cy="924.2" r="5.65" fill="#d4d4d4" stroke="#000" stroke-width="1.35"/><path d="M363.6,924.2H374.8M369.2,918.6V929.9" stroke="#000" stroke-width="1.2"/>
<circle cx="456.1" cy="876.8" r="5.65" fill="#d4d4d4" stroke="#000" stroke-width="1.35"/><path d="M450.5,876.8H461.8M456.1,871.1V882.4" stroke="#000" stroke-width="1.2"/>
<circle cx="463.4" cy="883.4" r="5.65" fill="#d4d4d4" stroke="#000" stroke-width="1.35"/><path d="M457.8,883.4H469.0M463.4,877.8V889.0" stroke="#000" stroke-width="1.2"/>
<circle cx="473.1" cy="892.3" r="5.65" fill="#d4d4d4" stroke="#000" stroke-width="1.35"/><path d="M467.5,892.3H478.8M473.1,886.6V897.9" stroke="#000" stroke-width="1.2"/>
<circle cx="485.3" cy="705.2" r="5.65" fill="#d4d4d4" stroke="#000" stroke-width="1.35"/><path d="M479.7,705.2H490.9M485.3,699.6V710.9" stroke="#000" stroke-width="1.2"/>
<circle cx="539.3" cy="691.2" r="5.65" fill="#d4d4d4" stroke="#000" stroke-width="1.35"/><path d="M533.6,691.2H544.9M539.3,685.6V696.9" stroke="#000" stroke-width="1.2"/>
<circle cx="617.5" cy="658.8" r="5.65" fill="#d4d4d4" stroke="#000" stroke-width="1.35"/><path d="M611.9,658.8H623.1M617.5,653.1V664.4" stroke="#000" stroke-width="1.2"/>
<circle cx="601.8" cy="705.0" r="5.65" fill="#d4d4d4" stroke="#000" stroke-width="1.35"/><path d="M596.1,705.0H607.4M601.8,699.4V710.6" stroke="#000" stroke-width="1.2"/>
<circle cx="602.2" cy="708.0" r="5.65" fill="#d4d4d4" stroke="#000" stroke-width="1.35"/><path d="M596.6,708.0H607.9M602.2,702.4V713.6" stroke="#000" stroke-width="1.2"/>
<circle cx="611.6" cy="704.5" r="5.65" fill="#d4d4d4" stroke="#000" stroke-width="1.35"/><path d="M606.0,704.5H617.2M611.6,698.9V710.1" stroke="#000" stroke-width="1.2"/>
<circle cx="591.7" cy="709.3" r="5.65" fill="#d4d4d4" stroke="#000" stroke-width="1.35"/><path d="M586.1,709.3H597.4M591.7,703.6V714.9" stroke="#000" stroke-width="1.2"/>
<circle cx="583.5" cy="718.2" r="5.65" fill="#d4d4d4" stroke="#000" stroke-width="1.35"/><path d="M577.9,718.2H589.1M583.5,712.6V723.9" stroke="#000" stroke-width="1.2"/>
<path d="M258.0,784.7L265.5,797.3L250.5,797.3Z" fill="#ff00ff" stroke="#000" stroke-width="1.2"/><path d="M254.9,793.1H261.1M258.0,790.0V796.2" stroke="#000" stroke-width="2.2"/>
<path d="M295.7,783.3L303.2,795.9L288.2,795.9Z" fill="#ff00ff" stroke="#000" stroke-width="1.2"/><path d="M292.6,791.7H298.8M295.7,788.6V794.8" stroke="#000" stroke-width="2.2"/>
<path d="M280.8,799.6L288.3,812.2L273.3,812.2Z" fill="#ff00ff" stroke="#000" stroke-width="1.2"/><path d="M277.7,808.0H283.9M280.8,804.9V811.1" stroke="#000" stroke-width="2.2"/>
<path d="M336.0,787.0L343.5,799.6L328.5,799.6Z" fill="#ff00ff" stroke="#000" stroke-width="1.2"/><path d="M332.9,795.4H339.1M336.0,792.3V798.5" stroke="#000" stroke-width="2.2"/>
<path d="M342.1,757.0L349.6,769.6L334.6,769.6Z" fill="#ff00ff" stroke="#000" stroke-width="1.2"/><path d="M339.0,765.4H345.2M342.1,762.3V768.5" stroke="#000" stroke-width="2.2"/>
<path d="M373.0,722.1L380.5,734.7L365.5,734.7Z" fill="#ff00ff" stroke="#000" stroke-width="1.2"/><path d="M369.9,730.5H376.1M373.0,727.4V733.6" stroke="#000" stroke-width="2.2"/>
<path d="M396.4,722.7L403.9,735.3L388.9,735.3Z" fill="#ff00ff" stroke="#000" stroke-width="1.2"/><path d="M393.3,731.1H399.5M396.4,728.0V734.2" stroke="#000" stroke-width="2.2"/>
<path d="M398.7,729.5L406.2,742.1L391.2,742.1Z" fill="#ff00ff" stroke="#000" stroke-width="1.2"/><path d="M395.6,737.9H401.8M398.7,734.8V741.0" stroke="#000" stroke-width="2.2"/>
<path d="M421.5,705.9L429.0,718.5L414.0,718.5Z" fill="#ff00ff" stroke="#000" stroke-width="1.2"/><path d="M418.4,714.3H424.6M421.5,711.2V717.4" stroke="#000" stroke-width="2.2"/>
<path d="M453.0,719.7L460.5,732.3L445.5,732.3Z" fill="#ff00ff" stroke="#000" stroke-width="1.2"/><path d="M449.9,728.1H456.1M453.0,725.0V731.2" stroke="#000" stroke-width="2.2"/>
<path d="M441.3,651.1L448.8,663.7L433.8,663.7Z" fill="#ff00ff" stroke="#000" stroke-width="1.2"/><path d="M438.2,659.5H444.4M441.3,656.4V662.6" stroke="#000" stroke-width="2.2"/>
<path d="M439.0,673.0L446.5,685.6L431.5,685.6Z" fill="#ff00ff" stroke="#000" stroke-width="1.2"/><path d="M435.9,681.4H442.1M439.0,678.3V684.5" stroke="#000" stroke-width="2.2"/>
<path d="M466.3,693.1L473.8,705.7L458.8,705.7Z" fill="#ff00ff" stroke="#000" stroke-width="1.2"/><path d="M463.2,701.5H469.4M466.3,698.4V704.6" stroke="#000" stroke-width="2.2"/>
<path d="M484.1,670.3L491.6,682.9L476.6,682.9Z" fill="#ff00ff" stroke="#000" stroke-width="1.2"/><path d="M481.0,678.7H487.2M484.1,675.6V681.8" stroke="#000" stroke-width="2.2"/>
<path d="M548.5,707.1L556.0,719.7L541.0,719.7Z" fill="#ff00ff" stroke="#000" stroke-width="1.2"/><path d="M545.4,715.5H551.6M548.5,712.4V718.6" stroke="#000" stroke-width="2.2"/>
<path d="M569.0,721.6L576.5,734.2L561.5,734.2Z" fill="#ff00ff" stroke="#000" stroke-width="1.2"/><path d="M565.9,730.0H572.1M569.0,726.9V733.1" stroke="#000" stroke-width="2.2"/>
<path d="M585.5,684.3L593.0,696.9L578.0,696.9Z" fill="#ff00ff" stroke="#000" stroke-width="1.2"/><path d="M582.4,692.7H588.6M585.5,689.6V695.8" stroke="#000" stroke-width="2.2"/>
<path d="M555.4,596.3L562.9,608.9L547.9,608.9Z" fill="#ff00ff" stroke="#000" stroke-width="1.2"/><path d="M552.3,604.7H558.5M555.4,601.6V607.8" stroke="#000" stroke-width="2.2"/>
<path d="M590.0,608.7L597.5,621.3L582.5,621.3Z" fill="#ff00ff" stroke="#000" stroke-width="1.2"/><path d="M586.9,617.1H593.1M590.0,614.0V620.2" stroke="#000" stroke-width="2.2"/>
<path d="M575.5,616.4L583.0,629.0L568.0,629.0Z" fill="#ff00ff" stroke="#000" stroke-width="1.2"/><path d="M572.4,624.8H578.6M575.5,621.7V627.9" stroke="#000" stroke-width="2.2"/>
<circle cx="245.5" cy="832.4" r="6.3" fill="#ffff00" stroke="#000" stroke-width="1.3"/><path d="M239.2,832.4H251.8M245.5,826.1V838.7" stroke="#000" stroke-width="1.3"/>
<circle cx="343.0" cy="781.0" r="6.3" fill="#ffff00" stroke="#000" stroke-width="1.3"/><path d="M336.7,781.0H349.3M343.0,774.7V787.3" stroke="#000" stroke-width="1.3"/>
<circle cx="385.2" cy="717.0" r="6.3" fill="#ffff00" stroke="#000" stroke-width="1.3"/><path d="M378.9,717.0H391.5M385.2,710.7V723.3" stroke="#000" stroke-width="1.3"/>
<circle cx="410.1" cy="706.4" r="6.3" fill="#ffff00" stroke="#000" stroke-width="1.3"/><path d="M403.8,706.4H416.4M410.1,700.1V712.7" stroke="#000" stroke-width="1.3"/>
<circle cx="434.6" cy="723.2" r="6.3" fill="#ffff00" stroke="#000" stroke-width="1.3"/><path d="M428.3,723.2H440.9M434.6,716.9V729.5" stroke="#000" stroke-width="1.3"/>
<circle cx="298.7" cy="802.3" r="6.6" fill="#00ff00" stroke="#000" stroke-width="1.2"/><circle cx="298.7" cy="802.3" r="1.2" fill="#000"/>
<circle cx="327.0" cy="789.2" r="6.6" fill="#00ff00" stroke="#000" stroke-width="1.2"/><circle cx="327.0" cy="789.2" r="1.2" fill="#000"/>
<circle cx="380.0" cy="709.9" r="6.6" fill="#00ff00" stroke="#000" stroke-width="1.2"/><circle cx="380.0" cy="709.9" r="1.2" fill="#000"/>
<circle cx="413.2" cy="759.7" r="6.6" fill="#00ff00" stroke="#000" stroke-width="1.2"/><circle cx="413.2" cy="759.7" r="1.2" fill="#000"/>
<circle cx="569.2" cy="715.9" r="6.6" fill="#00ff00" stroke="#000" stroke-width="1.2"/><circle cx="569.2" cy="715.9" r="1.2" fill="#000"/>
<ellipse cx="351.9" cy="755.15" rx="155.8" ry="37.6" transform="rotate(-36.48 351.9 755.15)" fill="none" stroke="#2f5597" stroke-width="3.5"/>
<g stroke="#111" stroke-width="1.3">
<line x1="149.4" y1="683.5" x2="149.4" y2="710.3"/>
<line x1="143.8" y1="683.5" x2="155.0" y2="683.5"/>
<line x1="143.8" y1="710.3" x2="155.0" y2="710.3"/>
<line x1="139" y1="696.9" x2="159.9" y2="696.9"/>
<line x1="139" y1="691.3" x2="139" y2="702.5"/>
<line x1="159.9" y1="691.3" x2="159.9" y2="702.5"/>
</g>
<circle cx="149.4" cy="696.9" r="2.2" fill="#000"/>
<line x1="91.6" y1="524" x2="91.6" y2="944.6" stroke="#262626" stroke-width="1.3"/>
<line x1="91.0" y1="939.1" x2="669.2" y2="939.1" stroke="#262626" stroke-width="1.3"/>
<line x1="668.6" y1="524" x2="668.6" y2="939.1" stroke="#262626" stroke-width="1.3"/>
<line x1="91.0" y1="524" x2="669.2" y2="524" stroke="#262626" stroke-width="1.3"/>
<line x1="85.6" y1="939.1" x2="91.6" y2="939.1" stroke="#262626" stroke-width="1.3"/>
<line x1="85.6" y1="869.9" x2="91.6" y2="869.9" stroke="#262626" stroke-width="1.3"/>
<line x1="85.6" y1="800.7" x2="91.6" y2="800.7" stroke="#262626" stroke-width="1.3"/>
<line x1="85.6" y1="731.5" x2="91.6" y2="731.5" stroke="#262626" stroke-width="1.3"/>
<line x1="85.6" y1="662.3" x2="91.6" y2="662.3" stroke="#262626" stroke-width="1.3"/>
<line x1="85.6" y1="593.1" x2="91.6" y2="593.1" stroke="#262626" stroke-width="1.3"/>
<line x1="91.6" y1="939.1" x2="91.6" y2="945.1" stroke="#262626" stroke-width="1.3"/>
<line x1="207.0" y1="939.1" x2="207.0" y2="945.1" stroke="#262626" stroke-width="1.3"/>
<line x1="322.4" y1="939.1" x2="322.4" y2="945.1" stroke="#262626" stroke-width="1.3"/>
<line x1="437.8" y1="939.1" x2="437.8" y2="945.1" stroke="#262626" stroke-width="1.3"/>
<line x1="553.2" y1="939.1" x2="553.2" y2="945.1" stroke="#262626" stroke-width="1.3"/>
<line x1="668.6" y1="939.1" x2="668.6" y2="945.1" stroke="#262626" stroke-width="1.3"/>
<text x="77.5" y="944.7" text-anchor="end" font-size="16">38.0</text>
<text x="77.5" y="875.5" text-anchor="end" font-size="16">38.2</text>
<text x="77.5" y="806.3" text-anchor="end" font-size="16">38.4</text>
<text x="77.5" y="737.1" text-anchor="end" font-size="16">38.6</text>
<text x="77.5" y="667.9" text-anchor="end" font-size="16">38.8</text>
<text x="77.5" y="598.7" text-anchor="end" font-size="16">39.0</text>
<text x="91.6" y="967.6" text-anchor="middle" font-size="16">18.0</text>
<text x="207.0" y="967.6" text-anchor="middle" font-size="16">18.2</text>
<text x="322.4" y="967.6" text-anchor="middle" font-size="16">18.4</text>
<text x="437.8" y="967.6" text-anchor="middle" font-size="16">18.6</text>
<text x="553.2" y="967.6" text-anchor="middle" font-size="16">18.8</text>
<text x="668.6" y="967.6" text-anchor="middle" font-size="16">19.0</text>
<text x="380.6" y="1006.6" text-anchor="middle" font-size="19" font-weight="bold"><tspan font-size="13.2" dy="-9">206</tspan><tspan dy="9">Pb/</tspan><tspan font-size="13.2" dy="-9">204</tspan><tspan dy="9">Pb</tspan></text>
<text transform="translate(19.8,731) rotate(-90)" x="0" y="0" text-anchor="middle" font-size="19" font-weight="bold"><tspan font-size="13.2" dy="-9">208</tspan><tspan dy="9">Pb/</tspan><tspan font-size="13.2" dy="-9">204</tspan><tspan dy="9">Pb</tspan></text>
<g font-style="italic" font-size="14.7" text-anchor="middle"><text x="236" y="642.6">Analytical error</text><text x="238" y="658.7">used for comparisons</text></g>
<text x="234.5" y="687.9" text-anchor="middle" font-size="14.7">±0.1%</text>
</svg></body></html>
